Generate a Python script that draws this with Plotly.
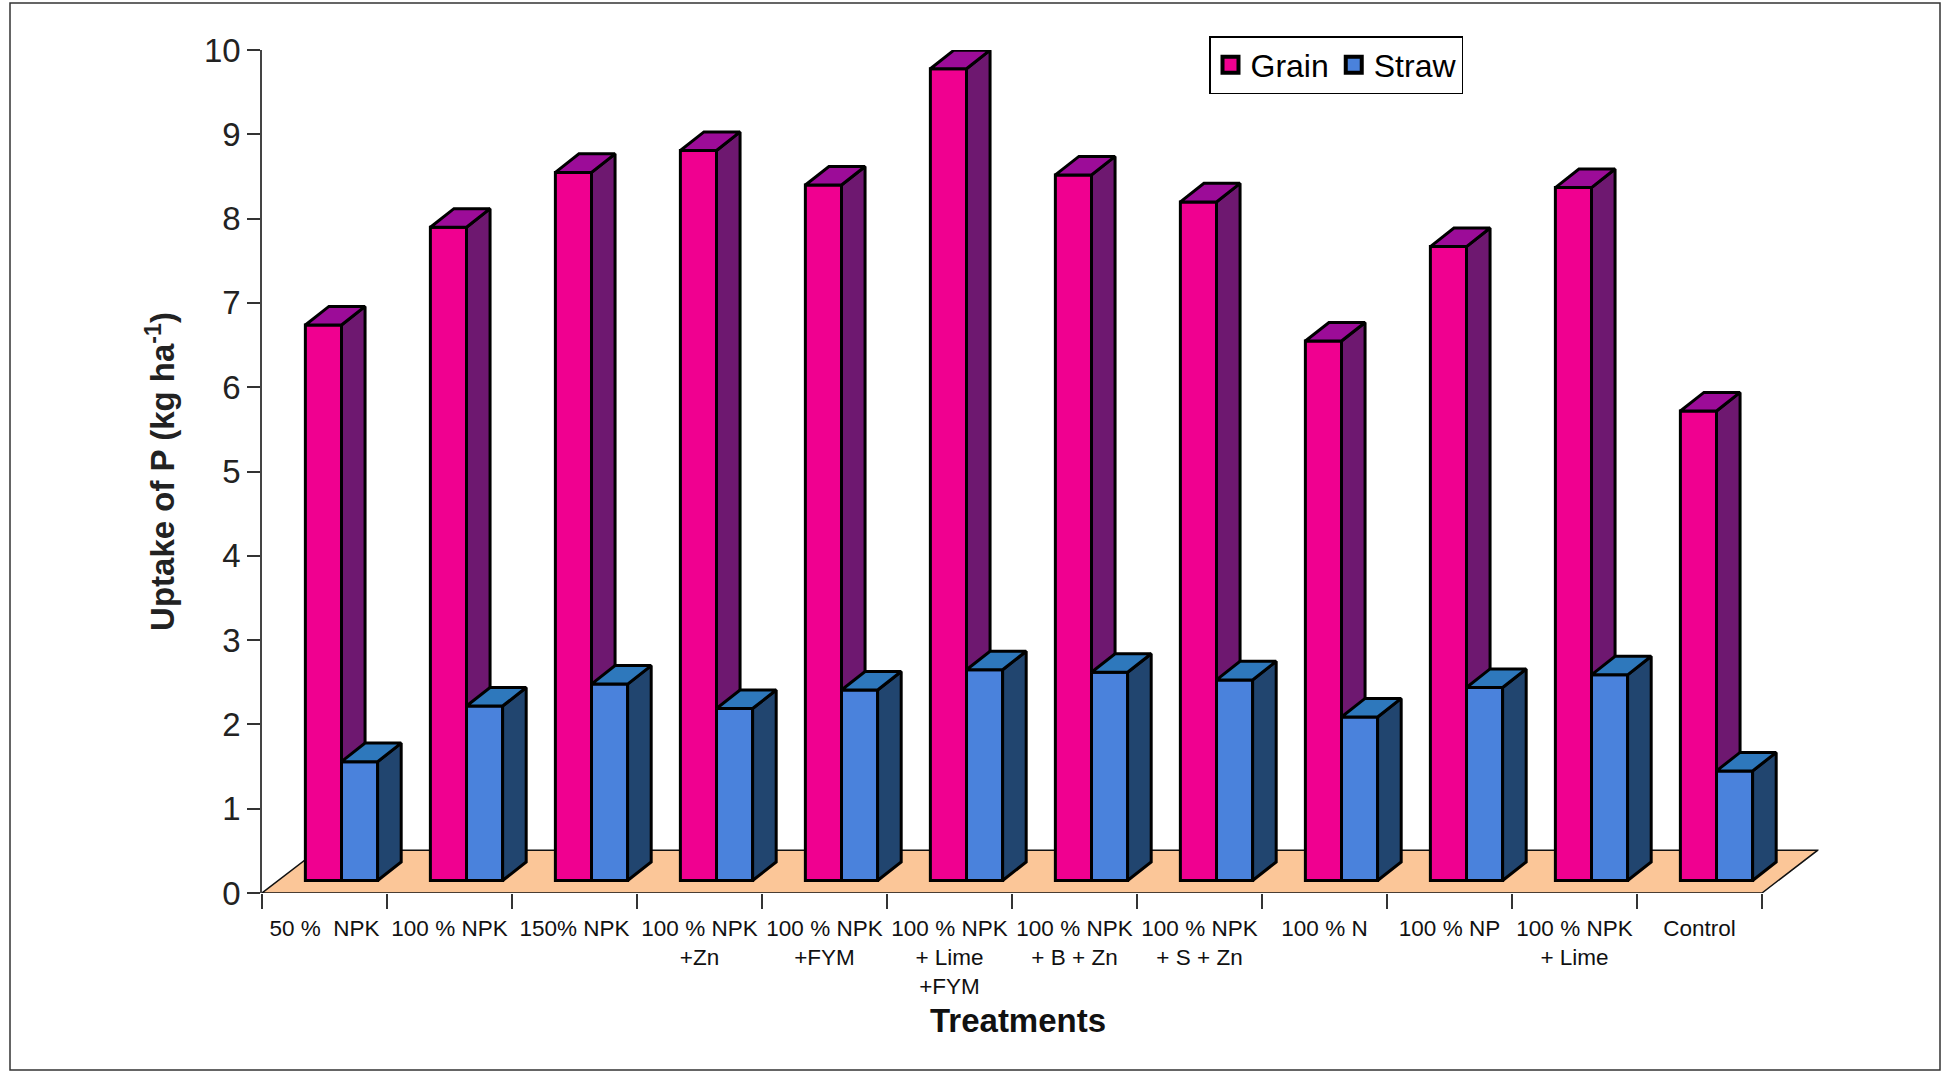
import plotly.graph_objects as go

categories = ["50 %  NPK", "100 % NPK", "150% NPK", "100 % NPK<br>+Zn", "100 % NPK<br>+FYM",
              "100 % NPK<br>+ Lime<br>+FYM", "100 % NPK<br>+ B + Zn", "100 % NPK<br>+ S + Zn",
              "100 % N", "100 % NP", "100 % NPK<br>+ Lime", "Control"]
grain = [6.59, 7.75, 8.40, 8.66, 8.25, 9.63, 8.37, 8.05, 6.40, 7.52, 8.22, 5.57]
straw = [1.41, 2.07, 2.33, 2.04, 2.26, 2.50, 2.47, 2.38, 1.94, 2.29, 2.44, 1.30]
y_ticks = list(range(0, 11))

W, H = 1946, 1074
FONT = "Liberation Sans"
X_L, X_R, Y_T, Y_B = 262, 1818.6, 50, 893
BAR_W = 0.289
DX, DY = 0.1885, 0.22      # depth of a bar, in axis units
BASE = 0.148               # bars stand this far up the floor
EDGE = dict(color="#000000", width=3)
n = len(categories)


def faces(values, left):
    side_x, side_y, top_x, top_y = [], [], [], []
    for i, v in enumerate(values):
        l = i + left
        r = l + BAR_W
        t = v + BASE
        side_x += [r, r + DX, r + DX, r, r, None]
        side_y += [BASE, BASE + DY, t + DY, t, BASE, None]
        top_x += [l, l + DX, r + DX, r, l, None]
        top_y += [t, t + DY, t + DY, t, t, None]
    return side_x, side_y, top_x, top_y


def add_series(fig, name, values, left, front, side, top, xa, ya):
    sx, sy, tx, ty = faces(values, left)
    fig.add_bar(x=[i + left + BAR_W / 2 for i in range(n)], y=values, base=[BASE] * n, width=BAR_W,
                marker=dict(color=front, line=EDGE), name=name, showlegend=False, xaxis=xa, yaxis=ya)
    for px, py, col in ((sx, sy, side), (tx, ty, top)):
        fig.add_scatter(x=px, y=py, mode="lines", fill="toself", fillcolor=col, line=EDGE,
                        showlegend=False, hoverinfo="skip", xaxis=xa, yaxis=ya)
    fig.add_scatter(x=[None], y=[None], mode="markers", name=name,
                    marker=dict(symbol="square", size=22, color=front, line=dict(color="#000", width=4)))


fig = go.Figure()
add_series(fig, "Grain", grain, 0.347, "#F00090", "#6E1870", "#9C0C98", "x", "y")
add_series(fig, "Straw", straw, 0.636, "#4A82DC", "#21456F", "#2E78BC", "x2", "y2")

x_range = [0, (X_R - X_L) / 125.0]
fig.update_layout(
    width=W, height=H, margin=dict(l=0, r=0, t=0, b=0, autoexpand=False), autosize=False,
    paper_bgcolor="white", plot_bgcolor="white", barmode="overlay",
    font=dict(family=FONT, color="#111111"),
    xaxis=dict(domain=[X_L / W, X_R / W], range=x_range, showgrid=False, zeroline=False, showline=False,
               tickmode="array", tickvals=[i + 0.5 for i in range(n)], ticktext=categories,
               ticks="", tickangle=0, tickfont=dict(size=22.5), ticklabelstandoff=19,
               minor=dict(tickmode="array", tickvals=list(range(n + 1)), ticks="outside", ticklen=15,
                          tickwidth=1.5, tickcolor="#333333", showgrid=False)),
    yaxis=dict(domain=[1 - Y_B / H, 1 - Y_T / H], range=[0, 10], showgrid=False, zeroline=False,
               showline=True, linecolor="#444444", linewidth=1.5,
               tickmode="array", tickvals=y_ticks, ticks="outside", ticklen=13, tickwidth=1.5,
               tickcolor="#333333", tickfont=dict(size=33, color="#222222"),
               title=dict(text="<b>Uptake of P (kg ha<sup>-1</sup>)</b>", font=dict(size=33, color="#222222"),
                          standoff=19)),
    xaxis2=dict(overlaying="x", anchor="y2", range=x_range, visible=False),
    yaxis2=dict(overlaying="y", anchor="x2", range=[0, 10], visible=False),
    legend=dict(orientation="h", x=1209 / W, y=1 - 36 / H, xanchor="left", yanchor="top",
                bordercolor="#000000", borderwidth=1.5, bgcolor="white", font=dict(size=32, color="#000"),
                itemsizing="trace", itemwidth=30, tracegroupgap=0),
    annotations=[dict(text="<b>Treatments</b>", x=1018 / W, y=1 - 1020 / H, xref="paper", yref="paper",
                      xanchor="center", yanchor="middle",
                      showarrow=False, font=dict(size=33, color="#111111"))],
    shapes=[
        dict(type="path", layer="below", xref="x", yref="y",
             path="M0,0 L12,0 L12.446,0.508 L0.446,0.508 Z",
             fillcolor="#FBC698", line=dict(color="#111111", width=1.5)),
        dict(type="rect", layer="below", xref="paper", yref="paper",
             x0=10 / W, x1=1940 / W, y0=1 - 1070 / H, y1=1 - 3 / H,
             line=dict(color="#333333", width=1.5)),
    ],
)

fig.write_html("out.html", config=dict(displayModeBar=False),
               post_script="document.body.style.margin='0';")
